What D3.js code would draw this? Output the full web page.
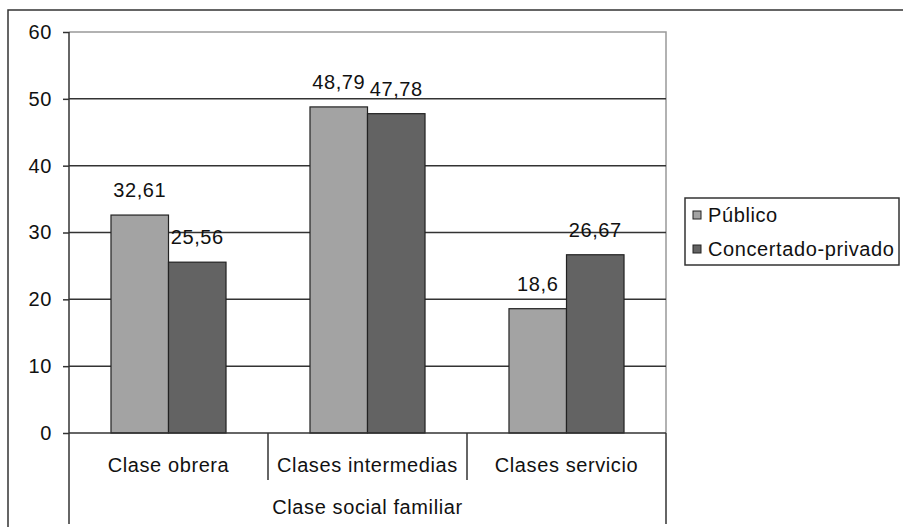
<!DOCTYPE html>
<html>
<head>
<meta charset="utf-8">
<script src="https://cdn.jsdelivr.net/npm/d3@7"></script>
<style>
body { margin: 0; background: #fff; }
text { font-family: "Liberation Sans", Arial, sans-serif; fill: #111; font-size: 20px; letter-spacing: 0.6px; }
</style>
</head>
<body>
<svg id="chart" width="903" height="527"></svg>
<script>
var categories = ["Clase obrera", "Clases intermedias", "Clases servicio"];
var seriesNames = ["Público", "Concertado-privado"];
var publico = [32.61, 48.79, 18.6];
var concertado = [25.56, 47.78, 26.67];
var valueLabels = [["32,61", "48,79", "18,6"], ["25,56", "47,78", "26,67"]];
var yTicks = [0, 10, 20, 30, 40, 50, 60];
var axisTitle = "Clase social familiar";

var colors = ["#a3a3a3", "#636363"];
var svg = d3.select("#chart");

var plot = {left: 69, right: 666, top: 32, bottom: 433};

var x = d3.scaleBand().domain(categories).range([plot.left, plot.right]).paddingInner(0).paddingOuter(0);
var x1 = d3.scaleBand().domain(seriesNames).range([0, x.bandwidth()]).paddingInner(0).paddingOuter(0.73);
var y = d3.scaleLinear().domain([0, 60]).range([plot.bottom, plot.top]);

// outer frame
svg.append("path")
	.attr("d", "M8,527 L8,10 L903,10")
	.attr("fill", "none").attr("stroke", "#333").attr("stroke-width", 1.5);

// plot border (top + right, grey)
svg.append("path")
	.attr("d", "M" + plot.left + "," + y(60) + " L" + plot.right + "," + y(60) + " L" + plot.right + "," + plot.bottom)
	.attr("fill", "none").attr("stroke", "#999").attr("stroke-width", 1.5);

// gridlines
svg.selectAll(".grid")
	.data(yTicks.filter(function(d) { return d > 0 && d < 60; }))
	.enter().append("line")
	.attr("class", "grid")
	.attr("x1", plot.left).attr("x2", plot.right)
	.attr("y1", function(d) { return y(d); })
	.attr("y2", function(d) { return y(d); })
	.attr("stroke", "#333").attr("stroke-width", 1.5);

// bars
var data = [];
for (var i = 0; i < categories.length; i++) {
	data.push({cat: categories[i], s: 0, v: publico[i], label: valueLabels[0][i]});
	data.push({cat: categories[i], s: 1, v: concertado[i], label: valueLabels[1][i]});
}

svg.selectAll(".bar")
	.data(data)
	.enter().append("rect")
	.attr("class", "bar")
	.attr("x", function(d) { return x(d.cat) + x1(seriesNames[d.s]); })
	.attr("y", function(d) { return y(d.v); })
	.attr("width", x1.bandwidth())
	.attr("height", function(d) { return y(0) - y(d.v); })
	.attr("fill", function(d) { return colors[d.s]; })
	.attr("stroke", "#222").attr("stroke-width", 1.2);

svg.selectAll(".vlabel")
	.data(data)
	.enter().append("text")
	.attr("class", "vlabel")
	.attr("x", function(d) { return x(d.cat) + x1(seriesNames[d.s]) + x1.bandwidth() / 2; })
	.attr("y", function(d) { return y(d.v) - 18; })
	.attr("text-anchor", "middle")
	.text(function(d) { return d.label; });

// y axis
var yAxis = svg.append("g")
	.attr("transform", "translate(" + plot.left + ",0)")
	.call(d3.axisLeft(y).tickValues(yTicks).tickSize(6).tickPadding(11).tickFormat(d3.format("d")));
yAxis.select(".domain").remove();
yAxis.selectAll("line").attr("stroke", "#333").attr("stroke-width", 1.5);
yAxis.selectAll("text").attr("font-size", null).attr("font-family", null).attr("fill", "#111");

svg.append("line")
	.attr("x1", plot.left).attr("x2", plot.left)
	.attr("y1", plot.top).attr("y2", 524)
	.attr("stroke", "#333").attr("stroke-width", 1.5);

// x axis
svg.append("line")
	.attr("x1", plot.left).attr("x2", plot.right)
	.attr("y1", y(0)).attr("y2", y(0))
	.attr("stroke", "#333").attr("stroke-width", 1.5);

svg.append("line")
	.attr("x1", plot.right).attr("x2", plot.right)
	.attr("y1", y(0)).attr("y2", 524)
	.attr("stroke", "#333").attr("stroke-width", 1.5);

svg.selectAll(".sep")
	.data(categories.slice(1))
	.enter().append("line")
	.attr("class", "sep")
	.attr("x1", function(d) { return x(d); })
	.attr("x2", function(d) { return x(d); })
	.attr("y1", y(0)).attr("y2", 480)
	.attr("stroke", "#333").attr("stroke-width", 1.5);

svg.selectAll(".cat")
	.data(categories)
	.enter().append("text")
	.attr("class", "cat")
	.attr("x", function(d) { return x(d) + x.bandwidth() / 2; })
	.attr("y", 472)
	.attr("text-anchor", "middle")
	.text(function(d) { return d; });

svg.append("text")
	.attr("x", (plot.left + plot.right) / 2)
	.attr("y", 514)
	.attr("text-anchor", "middle")
	.text(axisTitle);

// legend
var legend = svg.append("g");
legend.append("rect")
	.attr("x", 685).attr("y", 198).attr("width", 214).attr("height", 67)
	.attr("fill", "#fff").attr("stroke", "#333").attr("stroke-width", 1.5);

var items = legend.selectAll(".item")
	.data(seriesNames)
	.enter().append("g")
	.attr("class", "item")
	.attr("transform", function(d, i) { return "translate(693," + (215 + i * 34) + ")"; });

items.append("rect")
	.attr("x", 0).attr("y", -4).attr("width", 8).attr("height", 8)
	.attr("fill", function(d, i) { return colors[i]; })
	.attr("stroke", "#222").attr("stroke-width", 1);

items.append("text")
	.attr("x", 15).attr("y", 7)
	.text(function(d) { return d; });
</script>
</body>
</html>
